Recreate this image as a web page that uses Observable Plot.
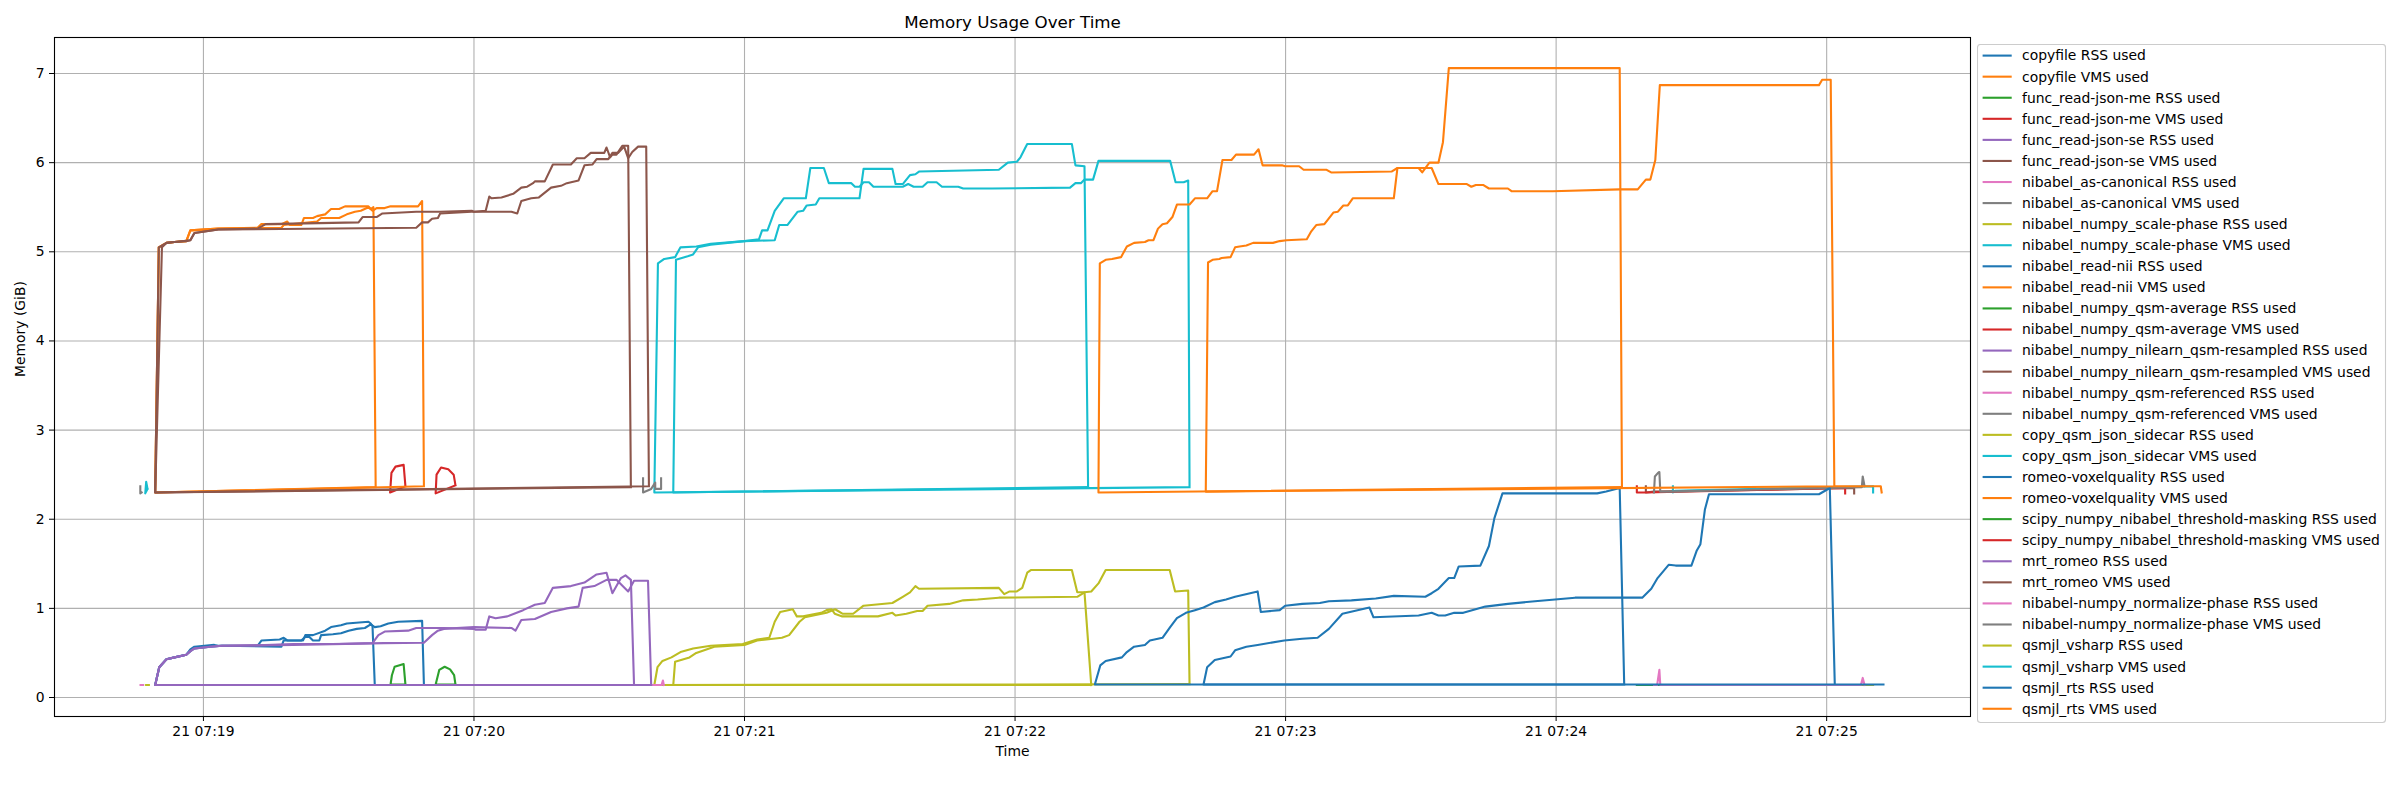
<!DOCTYPE html>
<html><head><meta charset="utf-8">
<script src="https://cdn.jsdelivr.net/npm/d3@7"></script>
<script src="https://cdn.jsdelivr.net/npm/@observablehq/plot@0.6"></script>
<style>
html,body{margin:0;padding:0;background:#fff;}
#wrap{position:relative;width:2400px;height:800px;font-family:"DejaVu Sans",sans-serif;background:#fff;}
#legend{position:absolute;left:1977px;top:44px;}
</style></head><body><div id="wrap"></div>
<script>
// ---- labels & colours ----
const seriesNames = [
 "copyfile RSS used","copyfile VMS used",
 "func_read-json-me RSS used","func_read-json-me VMS used",
 "func_read-json-se RSS used","func_read-json-se VMS used",
 "nibabel_as-canonical RSS used","nibabel_as-canonical VMS used",
 "nibabel_numpy_scale-phase RSS used","nibabel_numpy_scale-phase VMS used",
 "nibabel_read-nii RSS used","nibabel_read-nii VMS used",
 "nibabel_numpy_qsm-average RSS used","nibabel_numpy_qsm-average VMS used",
 "nibabel_numpy_nilearn_qsm-resampled RSS used","nibabel_numpy_nilearn_qsm-resampled VMS used",
 "nibabel_numpy_qsm-referenced RSS used","nibabel_numpy_qsm-referenced VMS used",
 "copy_qsm_json_sidecar RSS used","copy_qsm_json_sidecar VMS used",
 "romeo-voxelquality RSS used","romeo-voxelquality VMS used",
 "scipy_numpy_nibabel_threshold-masking RSS used","scipy_numpy_nibabel_threshold-masking VMS used",
 "mrt_romeo RSS used","mrt_romeo VMS used",
 "nibabel-numpy_normalize-phase RSS used","nibabel-numpy_normalize-phase VMS used",
 "qsmjl_vsharp RSS used","qsmjl_vsharp VMS used",
 "qsmjl_rts RSS used","qsmjl_rts VMS used"
];
const palette = ["#1f77b4","#ff7f0e","#2ca02c","#d62728","#9467bd","#8c564b","#e377c2","#7f7f7f","#bcbd22","#17becf"];
const xTickSeconds = [60,120,180,240,300,360,420]; // 07:19 ... 07:25
const yTicks = [0,1,2,3,4,5,6,7];

// ---- series: [seconds after 07:18:00, GiB]; null = gap ----
const copyfileRSS = [[98.0,0.14],[49.3,0.14],[50.2,0.34],[51.8,0.43],[53.6,0.45],[56.2,0.48],[57.1,0.54],[58.0,0.57],[62.4,0.59],[63.3,0.58],[72.0,0.58],[72.9,0.64],[76.9,0.65],[77.8,0.67],[78.6,0.64],[82.1,0.64],[82.6,0.70],[84.3,0.70],[87.0,0.75],[88.3,0.79],[90.5,0.81],[91.8,0.83],[96.6,0.85],[97.1,0.83],[97.5,0.80],[98.0,0.14]];
const copyfileVMS = [[98.2,2.36],[49.3,2.30],[50.1,5.05],[51.8,5.10],[53.6,5.11],[56.2,5.12],[57.1,5.24],[63.3,5.26],[72.0,5.27],[72.8,5.31],[77.3,5.31],[78.6,5.34],[79.1,5.30],[81.7,5.30],[82.3,5.38],[84.3,5.38],[85.2,5.40],[87.0,5.42],[88.3,5.48],[90.1,5.48],[91.4,5.51],[96.6,5.51],[97.1,5.48],[97.7,5.50],[98.2,2.36]];
const jsonMeRSS = [[104.8,0.146],[101.5,0.146],[101.8,0.25],[102.4,0.345],[104.4,0.375],[104.8,0.146]];
const jsonMeVMS = [[104.8,2.37],[101.4,2.30],[101.7,2.52],[102.6,2.59],[104.4,2.61],[104.8,2.37]];
const jsonSeRSS = [[379.9,0.14],[381.7,0.14],[426.1,0.14]];
const jsonSeVMS = [[379.9,2.37],[379.9,2.30],[381.7,2.31],[426.1,2.35],[426.1,2.29]];
const asCanonicalRSS = [[46.6,0.14],[46.0,0.14],[46.6,0.14]];
const asCanonicalVMS = [[46.0,2.37],[46.0,2.29],[46.3,2.30]];
const scalePhaseRSS = [[278.7,0.15],[160.0,0.14],[160.7,0.34],[161.8,0.41],[163.8,0.45],[165.8,0.51],[168.6,0.55],[172.5,0.58],[179.6,0.60],[182.8,0.65],[185.5,0.67],[186.7,0.85],[187.9,0.96],[190.7,0.99],[191.6,0.91],[193.0,0.91],[197.0,0.95],[198.2,0.98],[199.3,0.99],[200.0,0.94],[201.7,0.91],[209.6,0.91],[212.8,0.95],[213.5,0.92],[215.9,0.94],[218.3,0.97],[219.5,0.97],[220.6,1.03],[225.4,1.05],[228.5,1.09],[231.7,1.10],[236.4,1.12],[253.8,1.13],[255.4,1.18],[256.9,1.19],[258.5,1.28],[260.1,1.43],[274.3,1.43],[275.5,1.19],[278.4,1.20],[278.7,0.15]];
const scalePhaseVMS = [[278.7,2.36],[160.0,2.30],[160.8,4.87],[162.2,4.92],[164.6,4.94],[165.8,5.05],[169.3,5.06],[172.5,5.09],[180.0,5.12],[183.2,5.14],[183.9,5.24],[185.1,5.24],[186.7,5.46],[188.7,5.60],[193.6,5.60],[194.6,5.94],[197.6,5.94],[198.7,5.77],[203.7,5.77],[204.5,5.73],[205.5,5.73],[206.4,5.78],[207.6,5.78],[208.6,5.73],[215.1,5.73],[216.3,5.76],[217.5,5.73],[219.5,5.73],[220.6,5.78],[222.6,5.78],[223.8,5.73],[227.4,5.73],[228.5,5.71],[234.9,5.71],[252.2,5.72],[253.4,5.77],[254.6,5.77],[255.4,5.81],[257.3,5.81],[258.5,6.02],[274.4,6.02],[275.6,5.78],[277.4,5.78],[278.4,5.80],[278.7,2.36]];
const readNiiRSS = [[108.9,0.14],[49.3,0.14],[50.2,0.34],[51.8,0.43],[53.6,0.45],[56.2,0.48],[57.1,0.52],[58.0,0.55],[61.5,0.57],[64.1,0.58],[77.3,0.57],[77.8,0.64],[81.7,0.64],[82.6,0.68],[83.5,0.68],[84.3,0.64],[85.7,0.64],[86.1,0.70],[88.7,0.71],[90.5,0.72],[92.2,0.75],[94.0,0.77],[95.8,0.78],[97.1,0.82],[98.0,0.79],[99.3,0.80],[101.0,0.83],[103.2,0.85],[108.5,0.86],[108.9,0.14]];
const readNiiVMS = [[108.9,2.37],[49.3,2.30],[50.1,5.05],[51.8,5.10],[53.6,5.11],[56.2,5.12],[57.1,5.24],[63.3,5.26],[77.3,5.27],[77.8,5.30],[85.2,5.34],[86.1,5.38],[90.1,5.38],[91.8,5.42],[93.6,5.45],[94.9,5.46],[96.6,5.50],[97.5,5.46],[98.4,5.49],[100.2,5.49],[101.5,5.51],[107.6,5.51],[108.5,5.57],[108.9,2.37]];
const qsmAverageRSS = [[115.9,0.146],[111.5,0.146],[112.3,0.31],[113.5,0.345],[114.7,0.315],[115.6,0.25],[115.9,0.146]];
const qsmAverageVMS = [[115.9,2.38],[111.5,2.29],[111.7,2.50],[112.7,2.58],[114.3,2.56],[115.5,2.50],[115.9,2.38]];
const resampledRSS = [[155.5,0.14],[49.3,0.14],[50.2,0.34],[51.8,0.43],[53.6,0.45],[56.2,0.48],[57.1,0.52],[58.0,0.55],[61.5,0.57],[64.1,0.58],[72.0,0.585],[80.0,0.60],[90.0,0.60],[97.5,0.61],[98.8,0.70],[100.2,0.74],[105.4,0.75],[107.2,0.78],[113.3,0.78],[120.0,0.77],[120.4,0.76],[122.6,0.76],[123.4,0.91],[124.8,0.89],[127.4,0.91],[130.9,0.98],[133.5,1.04],[135.7,1.06],[137.5,1.23],[141.5,1.25],[144.5,1.29],[147.2,1.38],[149.4,1.40],[150.7,1.17],[152.6,1.34],[153.6,1.37],[154.8,1.32],[155.5,0.14]];
const resampledVMS = [[154.8,2.36],[49.3,2.30],[50.1,5.05],[51.8,5.10],[53.6,5.11],[56.2,5.12],[57.1,5.13],[58.0,5.21],[63.3,5.25],[72.0,5.26],[73.8,5.31],[94.4,5.33],[95.3,5.39],[98.4,5.39],[99.7,5.43],[107.2,5.45],[112.5,5.45],[119.5,5.46],[120.0,5.45],[122.6,5.46],[123.4,5.62],[123.9,5.60],[126.1,5.61],[128.7,5.65],[130.5,5.72],[131.8,5.73],[133.1,5.77],[133.5,5.79],[135.7,5.79],[137.5,5.98],[141.5,5.98],[142.8,6.05],[144.5,6.05],[145.9,6.11],[148.9,6.11],[149.4,6.17],[150.2,6.06],[150.7,6.09],[151.6,6.09],[152.9,6.19],[154.2,6.19],[154.8,2.36]];
const referencedRSS = [[157.5,0.14],[159.5,0.14],[160.2,0.14],[161.6,0.14],[161.9,0.19],[162.1,0.14]];
const referencedVMS = [[157.5,2.46],[157.5,2.30],[159.3,2.34],[160.2,2.41],[160.2,2.34],[161.5,2.34],[161.5,2.46]];
const sidecarRSS = [[47.9,0.14],[47.2,0.14],[47.9,0.14],null,[385.9,0.14],[430.3,0.14]];
const sidecarVMS = [[47.6,2.34],[47.1,2.29],[47.3,2.42],[47.6,2.34],null,[385.9,2.37],[385.9,2.30],[386.5,2.32],[430.3,2.37],[430.3,2.30]];
const voxelqualityRSS = [[375.1,0.146],[257.7,0.146],[258.9,0.36],[260.1,0.41],[263.7,0.45],[264.8,0.51],[266.4,0.57],[268.8,0.59],[269.9,0.64],[272.7,0.67],[274.4,0.79],[275.9,0.89],[277.9,0.95],[279.9,0.98],[281.8,1.01],[284.3,1.07],[286.8,1.10],[288.8,1.13],[293.8,1.19],[294.5,0.96],[298.7,0.98],[299.9,1.03],[303.7,1.05],[307.6,1.06],[309.6,1.08],[314.6,1.09],[320.0,1.11],[324.0,1.14],[331.0,1.13],[332.4,1.17],[333.9,1.22],[336.2,1.34],[337.4,1.34],[338.4,1.47],[343.2,1.48],[345.1,1.70],[346.3,2.01],[348.1,2.29],[369.1,2.29],[371.1,2.31],[374.1,2.35],[375.1,0.146]];
const voxelqualityVMS = [[374.6,2.36],[258.5,2.30],[258.8,4.87],[260.1,4.91],[261.5,4.92],[263.5,4.94],[264.8,5.06],[266.4,5.10],[268.8,5.11],[269.6,5.13],[270.7,5.13],[271.7,5.26],[272.7,5.31],[273.7,5.32],[274.9,5.39],[275.9,5.53],[278.7,5.53],[279.9,5.60],[282.6,5.60],[283.8,5.68],[284.8,5.68],[286.0,6.03],[288.0,6.03],[289.0,6.09],[293.0,6.09],[294.0,6.15],[294.9,5.97],[299.2,5.97],[299.9,5.96],[303.0,5.96],[304.0,5.92],[309.1,5.92],[310.1,5.89],[323.5,5.90],[324.8,5.94],[329.5,5.94],[330.3,5.89],[331.9,6.00],[333.9,6.00],[334.9,6.23],[336.2,7.06],[374.1,7.06],[374.6,2.36]];
const maskingRSS = [[377.9,0.14],[379.7,0.14],[424.1,0.14]];
const maskingVMS = [[377.9,2.37],[377.9,2.30],[379.7,2.30],[424.1,2.35],[424.1,2.29]];
const mrtRomeoRSS = [[159.3,0.14],[49.3,0.14],[50.2,0.34],[51.8,0.43],[53.6,0.45],[56.2,0.48],[57.1,0.52],[58.0,0.55],[61.5,0.57],[64.1,0.58],[80.0,0.59],[100.0,0.61],[108.9,0.615],[110.7,0.70],[112.0,0.75],[113.3,0.77],[120.0,0.79],[128.3,0.78],[129.2,0.75],[130.5,0.87],[133.5,0.88],[137.1,0.96],[140.6,1.00],[143.2,1.02],[144.1,1.23],[146.7,1.25],[149.4,1.32],[151.6,1.32],[154.2,1.19],[155.5,1.31],[158.6,1.31],[159.3,0.14]];
const mrtRomeoVMS = [[158.8,2.37],[49.3,2.30],[50.8,5.05],[51.8,5.10],[53.6,5.11],[57.1,5.13],[58.0,5.21],[63.3,5.25],[107.2,5.27],[108.5,5.33],[109.8,5.33],[110.7,5.37],[112.0,5.38],[112.5,5.43],[119.5,5.45],[128.3,5.45],[129.6,5.43],[130.5,5.57],[132.7,5.60],[134.4,5.61],[137.1,5.72],[139.3,5.74],[140.6,5.77],[143.2,5.80],[144.5,5.97],[146.3,5.98],[147.2,6.04],[149.8,6.04],[150.7,6.11],[152.0,6.11],[153.3,6.18],[154.2,6.05],[155.1,6.12],[156.4,6.18],[158.2,6.18],[158.8,2.37]];
const normalizeRSS = [[381.7,0.14],[382.4,0.14],[382.9,0.31],[383.1,0.14],[427.6,0.14],[428.0,0.22],[428.4,0.14]];
const normalizeVMS = [[381.7,2.30],[381.9,2.48],[382.6,2.52],[382.9,2.53],[383.1,2.31],[385.5,2.31],[427.8,2.36],[428.0,2.48],[428.4,2.37]];
const vsharpRSS = [[256.9,0.14],[164.2,0.14],[164.6,0.40],[167.8,0.45],[169.3,0.50],[173.3,0.57],[180.0,0.59],[182.8,0.64],[188.3,0.67],[189.9,0.70],[192.2,0.85],[193.4,0.90],[198.2,0.95],[200.1,0.99],[201.7,0.94],[204.1,0.94],[206.4,1.03],[212.8,1.06],[215.1,1.13],[216.7,1.18],[217.9,1.25],[218.7,1.22],[236.4,1.23],[237.6,1.16],[238.8,1.19],[240.4,1.19],[241.6,1.23],[242.7,1.40],[243.5,1.43],[252.6,1.43],[253.8,1.18],[255.4,1.18],[256.9,0.14]];
const vsharpVMS = [[256.2,2.36],[164.2,2.30],[164.8,4.91],[167.4,4.95],[168.6,4.97],[169.7,5.05],[172.5,5.08],[180.0,5.12],[186.7,5.13],[187.7,5.30],[189.5,5.30],[191.8,5.45],[193.0,5.46],[193.8,5.52],[195.8,5.53],[196.6,5.60],[205.5,5.60],[206.4,5.93],[212.8,5.93],[213.5,5.76],[215.1,5.76],[216.7,5.86],[217.9,5.87],[218.7,5.90],[236.4,5.92],[238.4,6.00],[240.4,6.01],[241.2,6.06],[242.7,6.21],[252.6,6.21],[253.4,5.97],[255.4,5.96],[256.2,2.36]];
const rtsRSS = [[421.8,0.146],[281.8,0.146],[282.6,0.34],[284.3,0.42],[287.8,0.46],[288.8,0.53],[291.3,0.57],[293.8,0.59],[299.7,0.64],[303.7,0.66],[307.1,0.67],[309.6,0.77],[312.6,0.94],[318.6,1.01],[319.5,0.90],[329.5,0.92],[332.4,0.95],[333.9,0.92],[335.4,0.92],[337.4,0.95],[339.4,0.95],[344.3,1.02],[349.3,1.05],[355.3,1.08],[364.2,1.12],[379.1,1.12],[381.1,1.22],[382.5,1.34],[385.0,1.49],[386.5,1.48],[390.0,1.48],[391.2,1.65],[392.0,1.72],[393.0,2.11],[393.9,2.28],[418.3,2.28],[420.7,2.35],[421.8,0.146],[432.6,0.146]];
const rtsVMS = [[421.7,2.37],[282.3,2.31],[282.8,4.88],[283.8,4.91],[285.3,4.92],[285.8,4.93],[287.8,4.94],[288.8,5.05],[289.8,5.06],[291.3,5.07],[292.8,5.10],[297.2,5.10],[298.7,5.12],[300.2,5.13],[304.7,5.14],[305.7,5.23],[306.8,5.30],[308.6,5.31],[310.6,5.44],[311.6,5.45],[312.8,5.52],[313.8,5.52],[314.9,5.60],[324.0,5.60],[324.8,5.94],[332.4,5.94],[333.9,5.76],[340.2,5.76],[341.2,5.73],[342.2,5.75],[343.8,5.75],[345.1,5.71],[349.3,5.71],[350.1,5.68],[359.2,5.68],[374.1,5.70],[378.1,5.70],[379.9,5.81],[380.9,5.81],[382.0,6.03],[383.0,6.87],[386.0,6.87],[418.3,6.87],[419.0,6.93],[420.9,6.93],[421.7,2.37],[432.0,2.37],[432.2,2.30]];

const seriesData = [copyfileRSS,copyfileVMS,jsonMeRSS,jsonMeVMS,jsonSeRSS,jsonSeVMS,asCanonicalRSS,asCanonicalVMS,
  scalePhaseRSS,scalePhaseVMS,readNiiRSS,readNiiVMS,qsmAverageRSS,qsmAverageVMS,resampledRSS,resampledVMS,
  referencedRSS,referencedVMS,sidecarRSS,sidecarVMS,voxelqualityRSS,voxelqualityVMS,maskingRSS,maskingVMS,
  mrtRomeoRSS,mrtRomeoVMS,normalizeRSS,normalizeVMS,vsharpRSS,vsharpVMS,rtsRSS,rtsVMS];

// ---- build ----
const T0 = Date.UTC(2024, 4, 21, 7, 18, 0);
const toDate = s => new Date(T0 + s * 1000);
const seriesColors = seriesNames.map((_, i) => palette[i % 10]);
const rows = [];
seriesData.forEach((pts, i) => pts.forEach(p => rows.push(
  p ? {name: seriesNames[i], time: toDate(p[0]), mem: p[1]} : {name: seriesNames[i], time: null, mem: null})));
const xTicks = xTickSeconds.map(toDate);
const fmt = d3.utcFormat("%d %H:%M");

const chart = Plot.plot({
  width: 2400, height: 800,
  marginLeft: 54, marginRight: 430, marginTop: 37, marginBottom: 84,
  style: {fontFamily: "DejaVu Sans, sans-serif", fontSize: "13.9px", background: "white", color: "black", overflow: "visible"},
  x: {type: "utc", domain: [toDate(26.97), toDate(451.9)]},
  y: {domain: [-0.213, 7.404]},
  color: {type: "ordinal", domain: seriesNames, range: seriesColors},
  marks: [
    Plot.gridX(xTicks, {stroke: "#b0b0b0", strokeOpacity: 1, strokeWidth: 1.1}),
    Plot.gridY(yTicks, {stroke: "#b0b0b0", strokeOpacity: 1, strokeWidth: 1.1}),
    Plot.line(rows, {x: "time", y: "mem", stroke: "name", strokeWidth: 2.1, strokeLinejoin: "round", strokeLinecap: "square"}),
    Plot.frame({stroke: "black", strokeWidth: 1.1}),
    Plot.axisX(xTicks, {tickSize: 5, tickPadding: 5, tickFormat: fmt, label: null, fontSize: 13.9}),
    Plot.axisY(yTicks, {tickSize: 5, tickPadding: 5, tickFormat: d => String(d), label: null, fontSize: 13.9}),
    Plot.text(["Memory Usage Over Time"], {text: d => d, frameAnchor: "top", lineAnchor: "middle", dy: -14.6, fontSize: 16.7}),
    Plot.text(["Time"], {text: d => d, frameAnchor: "bottom", lineAnchor: "middle", dy: 35, fontSize: 13.9}),
    Plot.text(["Memory (GiB)"], {text: d => d, frameAnchor: "left", lineAnchor: "middle", dx: -33.6, rotate: -90, fontSize: 13.9})
  ]
});
const wrap = document.getElementById("wrap");
wrap.appendChild(chart);

// ---- legend ----
const lg = d3.select(wrap).append("svg").attr("id", "legend").attr("width", 412).attr("height", 682)
  .style("font-family", "DejaVu Sans, sans-serif").style("font-size", "13.9px");
lg.append("rect").attr("x", 0.5).attr("y", 0.5).attr("width", 408).attr("height", 678).attr("rx", 3)
  .attr("fill", "white").attr("fill-opacity", 0.8).attr("stroke", "#cccccc").attr("stroke-width", 1.1);
const ent = lg.selectAll("g.e").data(seriesNames).join("g").attr("class", "e")
  .attr("transform", (d, i) => `translate(0,${11.6 + i * 21.07})`);
ent.append("line").attr("x1", 5.6).attr("x2", 34.7).attr("y1", 0).attr("y2", 0)
  .attr("stroke", (d, i) => seriesColors[i]).attr("stroke-width", 2.1);
ent.append("text").attr("x", 45).attr("y", 0).attr("dy", "0.35em").attr("fill", "black").text(d => d);
</script></body></html>
